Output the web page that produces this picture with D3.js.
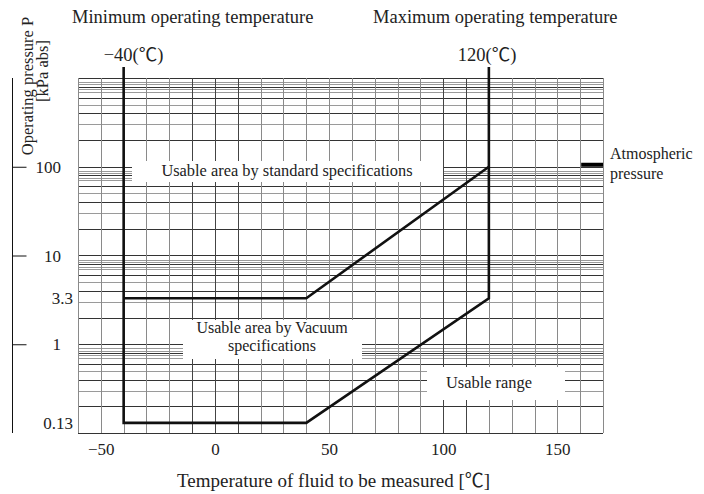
<!DOCTYPE html>
<html>
<head>
<meta charset="utf-8">
<script src="https://cdn.jsdelivr.net/npm/d3@7"></script>
<style>
  body { margin: 0; background: #fff; }
  text { font-family: "Liberation Serif", "Noto Sans CJK JP", serif; fill: #222; }
</style>
</head>
<body>
<div id="myChart"></div>
<script>
let width = 704
let height = 494

// values
const tempTicks = [-50, 0, 50, 100, 150]
const pressureTicks = [1, 10, 100]
const pressureMarks = [3.3, 0.13]
const gridTemps = d3.range(-60, 171, 10)
const gridMultiples = [1, 2, 3, 4, 5, 6, 7, 7.5, 8, 8.5, 9]
const decades = [0.1, 1, 10, 100]
const darkMultiples = [1, 2, 4, 6, 8]
const darkTemps = [-10, 0, 10, 100, 110]

const minTemp = -40
const maxTemp = 120
const atmPressure = 100
// outer boundary (usable range) and standard-spec boundary
const rangeT = [-40, -40, 40, 120, 120]
const rangeP = [null, 0.13, 0.13, 3.3, null]
const stdT = [-40, 40, 120]
const stdP = [3.3, 3.3, 100]

let x = d3.scaleLinear().domain([-60, 170]).range([78, 603])
let y = d3.scaleLog().domain([0.1, 1000]).range([433, 78])

let svg = d3.select("#myChart")
  .append("svg")
  .attr("width", width)
  .attr("height", height)

// grid
let hLines = []
decades.forEach(d => gridMultiples.forEach(m => hLines.push({ v: d * m, dark: darkMultiples.includes(m) })))
hLines.push({ v: 1000, dark: true })

let grid = svg.append("g").attr("class", "grid")
grid.selectAll("line.h")
  .data(hLines)
  .enter().append("line")
  .attr("class", "h")
  .attr("x1", x(-60)).attr("x2", x(170))
  .attr("y1", d => Math.round(y(d.v)) + 0.5)
  .attr("y2", d => Math.round(y(d.v)) + 0.5)
  .attr("stroke", d => d.dark ? "#333" : "#9a9a9a")
  .attr("stroke-width", 1)

grid.selectAll("line.v")
  .data(gridTemps)
  .enter().append("line")
  .attr("class", "v")
  .attr("x1", d => Math.round(x(d)) + 0.5)
  .attr("x2", d => Math.round(x(d)) + 0.5)
  .attr("y1", y(1000)).attr("y2", y(0.1))
  .attr("stroke", d => darkTemps.includes(d) ? "#444" : "#8a8a8a")
  .attr("stroke-width", 1)

// white label boxes over the grid
const boxes = [
  { x0: 132, x1: 443, y0: 161, y1: 182 },
  { x0: 183, x1: 362, y0: 320, y1: 359 },
  { x0: 427, x1: 565, y0: 367, y1: 400 }
]
svg.selectAll("rect.box")
  .data(boxes)
  .enter().append("rect")
  .attr("class", "box")
  .attr("x", d => d.x0).attr("y", d => d.y0)
  .attr("width", d => d.x1 - d.x0).attr("height", d => d.y1 - d.y0)
  .attr("fill", "#fff")

// boundaries
let topY = y(1000) - 11
let rangeLine = d3.line()
  .x(d => x(d[0]))
  .y(d => d[1] == null ? topY : y(d[1]))
svg.append("path")
  .attr("d", rangeLine(rangeT.map((t, i) => [t, rangeP[i]])))
  .attr("fill", "none")
  .attr("stroke", "#111")
  .attr("stroke-width", 2.6)
  .attr("stroke-linejoin", "miter")

svg.append("path")
  .attr("d", rangeLine(stdT.map((t, i) => [t, stdP[i]])))
  .attr("fill", "none")
  .attr("stroke", "#111")
  .attr("stroke-width", 2.6)

// atmospheric pressure marker
svg.append("rect")
  .attr("x", x(160) + 1).attr("y", y(atmPressure) - 4)
  .attr("width", x(170) - x(160) - 1).attr("height", 4)
  .attr("fill", "#000")

// left pressure axis
let yAxis = svg.append("g")
  .attr("transform", "translate(12.5,0)")
  .call(d3.axisRight(y).tickValues(pressureTicks).tickSize(14).tickSizeOuter(0).tickFormat(""))
yAxis.select(".domain").attr("stroke", "#111").attr("d", `M0,${y(1000)}V${y(0.1)}`)
yAxis.selectAll(".tick line").attr("stroke", "#111")

svg.selectAll("text.ptick")
  .data(pressureTicks)
  .enter().append("text")
  .attr("class", "ptick")
  .attr("x", 61).attr("y", d => y(d) + 6)
  .attr("text-anchor", "end")
  .style("font-size", "17px")
  .text(d => d)

svg.selectAll("text.pmark")
  .data(pressureMarks)
  .enter().append("text")
  .attr("class", "pmark")
  .attr("x", 73).attr("y", d => y(d) + 6)
  .attr("text-anchor", "end")
  .style("font-size", "17px")
  .text(d => d)

// bottom temperature axis
let xAxis = svg.append("g")
  .attr("transform", `translate(0,${y(0.1)})`)
  .call(d3.axisBottom(x).tickValues(tempTicks).tickSize(0).tickPadding(10))
xAxis.select(".domain").remove()
xAxis.selectAll("text")
  .style("font-family", "'Liberation Serif', serif")
  .style("font-size", "17px")
  .attr("fill", "#222")

// titles
svg.append("text").attr("x", 72).attr("y", 23).style("font-size", "18.5px").text("Minimum operating temperature")
svg.append("text").attr("x", 373).attr("y", 23).style("font-size", "18.5px").text("Maximum operating temperature")
svg.append("text").attr("x", x(minTemp) - 20).attr("y", 61).style("font-size", "18.5px").text("−40(℃)")
svg.append("text").attr("x", x(maxTemp) - 31).attr("y", 61).style("font-size", "18.5px").text("120(℃)")
svg.append("text").attr("x", 177).attr("y", 487).style("font-size", "19px").text("Temperature of fluid to be measured [℃]")

let yTitle = svg.append("g").attr("transform", "translate(33,86) rotate(-90)")
yTitle.append("text").attr("text-anchor", "middle").attr("y", 0).style("font-size", "16.5px").text("Operating pressure P")
yTitle.append("text").attr("text-anchor", "middle").attr("x", 15).attr("y", 15).style("font-size", "16.5px").text("[kPa abs]")

// in-plot labels
svg.append("text").attr("x", 287).attr("y", 176).attr("text-anchor", "middle").style("font-size", "16.4px")
  .text("Usable area by standard specifications")
svg.append("text").attr("x", 272).attr("y", 333).attr("text-anchor", "middle").style("font-size", "16px")
  .text("Usable area by Vacuum")
svg.append("text").attr("x", 272).attr("y", 351).attr("text-anchor", "middle").style("font-size", "16px")
  .text("specifications")
svg.append("text").attr("x", 489).attr("y", 388).attr("text-anchor", "middle").style("font-size", "16.4px")
  .text("Usable range")
svg.append("text").attr("x", 610).attr("y", 159).style("font-size", "16px").text("Atmospheric")
svg.append("text").attr("x", 610).attr("y", 179).style("font-size", "16px").text("pressure")
</script>
</body>
</html>
